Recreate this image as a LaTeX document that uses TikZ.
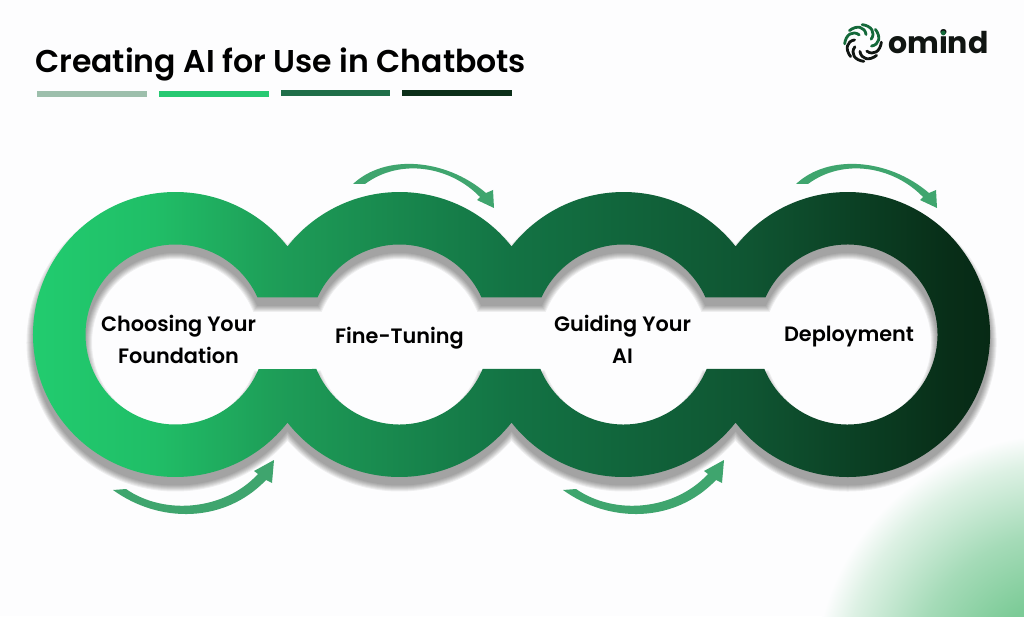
\documentclass[tikz,border=0pt]{standalone}
\usepackage{fontspec}
\setmainfont{Poppins}
\newfontfamily\headfont{Poppins SemiBold}
\usetikzlibrary{shapes.geometric}

\definecolor{pagebg}{HTML}{FDFDFE}
\definecolor{barA}{HTML}{9DBFAC}
\definecolor{barB}{HTML}{27C972}
\definecolor{barC}{HTML}{1F6E49}
\definecolor{barD}{HTML}{0C2F19}
\definecolor{sweepgreen}{HTML}{3FA56E}
\definecolor{logoblack}{HTML}{101512}
\definecolor{logogreen}{HTML}{14693A}
\definecolor{ringA}{RGB}{34,206,112}
\definecolor{ringAB}{RGB}{32,190,103}
\definecolor{ringB}{RGB}{30,158,88}
\definecolor{ringC}{RGB}{19,115,68}
\definecolor{ringD}{RGB}{15,85,50}
\definecolor{ringE}{RGB}{8,46,24}
\definecolor{ringF}{RGB}{6,40,20}
\definecolor{glowA}{RGB}{124,203,151}
\definecolor{glowB}{RGB}{165,219,184}
\definecolor{glowC}{RGB}{221,241,228}

\pgfdeclarehorizontalshading{ringfade}{100bp}{
color(0bp)=(ringA);
color(25bp)=(ringA);
color(32bp)=(ringAB);
color(38bp)=(ringB);
color(50bp)=(ringC);
color(62bp)=(ringD);
color(72bp)=(ringE);
color(75bp)=(ringF);
color(100bp)=(ringF)}

\pgfdeclareradialshading{cornerglow}{\pgfpointorigin}{
color(0bp)=(glowA);
color(8bp)=(glowA);
color(15bp)=(glowB);
color(22bp)=(glowC);
color(25bp)=(pagebg);
color(50bp)=(pagebg)}

% outline of the chain of rings
\newcommand{\ringoutline}{
(287.5,369.57) arc[start angle=38.18,end angle=321.82,radius=142.5]
arc[start angle=218.18,end angle=321.82,radius=142.5]
arc[start angle=218.18,end angle=321.82,radius=142.5]
arc[start angle=218.18,end angle=501.82,radius=142.5]
arc[start angle=38.18,end angle=141.82,radius=142.5]
arc[start angle=38.18,end angle=141.82,radius=142.5] -- cycle
(257.55,318.5) arc[start angle=24.28,end angle=337.46,radius=90]
-- (316.38,247) arc[start angle=202.54,end angle=337.46,radius=90]
-- (540.38,247) arc[start angle=202.54,end angle=337.46,radius=90]
-- (764.38,247) arc[start angle=202.54,end angle=515.72,radius=90]
-- (705.55,318.5) arc[start angle=24.28,end angle=155.72,radius=90]
-- (481.55,318.5) arc[start angle=24.28,end angle=155.72,radius=90]
-- cycle
}

\tikzset{
  steplabel/.style={font=\headfont\fontsize{20.8}{32}\selectfont, text=black, align=center, inner sep=0pt},
  sweep/.style={fill=sweepgreen},
}

\begin{document}
\begin{tikzpicture}[x=1pt,y=1pt]
\useasboundingbox (0,0) rectangle (1024,616);
\fill[pagebg] (0,0) rectangle (1024,616);

\begin{scope}
\clip (0,0) rectangle (1024,616);
\shade[shading=cornerglow] (1060,-64) circle (246);
\end{scope}

% heading and the four bars under it
\node[anchor=base west, inner sep=0pt, font=\headfont\fontsize{31.5}{36}\selectfont, text=black] (title) at (35,543) {Creating AI for Use in Chatbots};
\fill[barA] (37,519) rectangle (147,525);
\fill[barB] (159,519) rectangle (268.5,525);
\fill[barC] (280.5,519.5) rectangle (390,525.5);
\fill[barD] (402,520) rectangle (512,526);

% soft shadow of the chain
\foreach \blur in {13,11,9,7,5,3,1}{
\begin{scope}[shift={(0,-8)}, transparency group, opacity=.06]
\path[fill=black, draw=black, line width=\blur pt, even odd rule] \ringoutline;
\end{scope}
}
\shade[shading=ringfade, even odd rule] \ringoutline;

% curved arrows
\foreach \dx in {0,450}{
\fill[sweep, shift={(\dx,0)}] (113,126) -- (126,127)
.. controls (165,100) and (225,106) .. (258,142)
-- (254,145) -- (274,156) -- (272,133) -- (266,136)
.. controls (225,93) and (160,92) .. (113,126) -- cycle;
}
\foreach \dx in {0,443}{
\fill[sweep, shift={(\dx,0)}] (353,432)
.. controls (385,462) and (445,458) .. (486,423)
-- (493,426) -- (494,408) -- (477,416) -- (480,419)
.. controls (450,450) and (400,458) .. (365,432) -- cycle;
}

\node[steplabel] (found) at (178.5,277) {Choosing Your\\Foundation};
\node[steplabel] (tune) at (399.5,278) {Fine-Tuning};
\node[steplabel] (guide) at (622.5,277) {Guiding Your\\AI};
\node[steplabel] (deploy) at (849,279.5) {Deployment};

% logo
\coordinate (logomid) at (863,573);
\foreach \ang/\col in {0/logogreen,45/logogreen,90/logogreen,135/logogreen,180/logoblack,225/logoblack,270/logoblack,315/logoblack}{
\draw[\col, line width=2.8, line cap=round, rotate around={\ang-20:(logomid)}] (872,573)
.. controls (879,577) and (878,585) .. (870,590);
}
\node[anchor=base west, inner sep=0pt, font=\bfseries\fontsize{30}{32}\selectfont, text=logoblack] (brand) at (888,562.7) {omind};
\fill[logogreen] (943.3,583) circle (2.4);
\end{tikzpicture}
\end{document}
